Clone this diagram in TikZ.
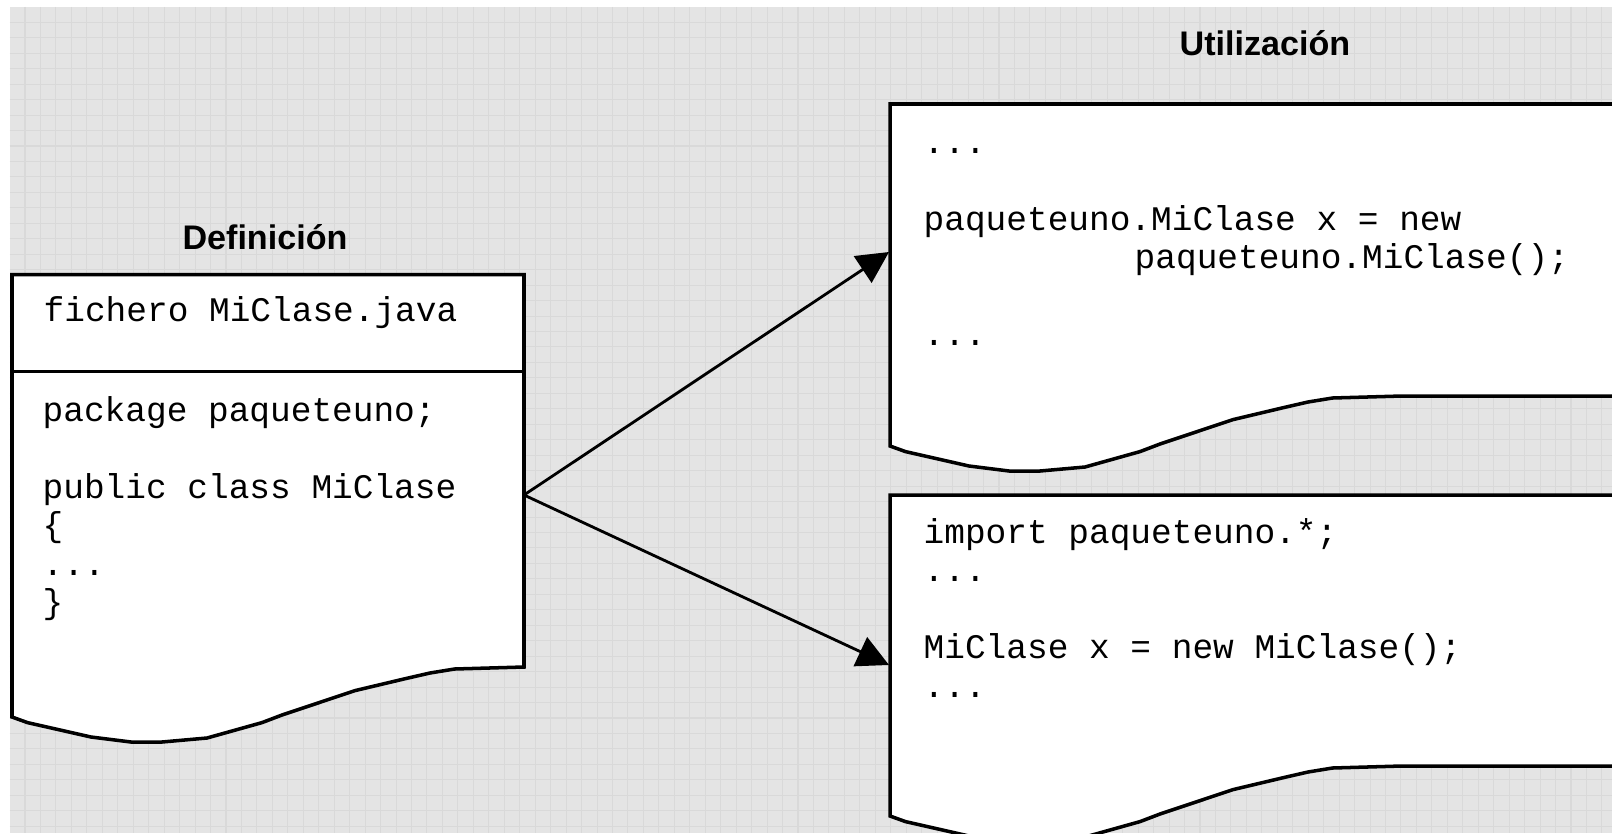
\documentclass[tikz,border=0pt]{standalone}
\usepackage{fontspec}
\setmonofont{Liberation Mono}
\setsansfont{Liberation Sans}
\usetikzlibrary{arrows.meta}

\definecolor{fondo}{HTML}{E4E4E4}
\definecolor{rejilla}{HTML}{D9D9D9}

\tikzset{
  hoja/.style={draw=black, fill=white, line width=1pt},
  codigo/.style={anchor=base west, inner sep=0pt, font=\fontsize{9.8}{11}\selectfont\ttfamily},
  titulo/.style={anchor=base, inner sep=0pt, font=\fontsize{9.7}{11}\selectfont\sffamily\bfseries},
  flecha/.style={line width=0.8pt, -{Triangle[length=9pt,width=9pt]}},
  borde/.style={insert path={-- ++(-69.5,2) -- ++(-24.5,4) -- ++(-24,5.5) -- ++(-51,12.1)
     -- ++(-73,24.4) -- ++(-20,7.6) -- ++(-55,15.4) -- ++(-45,4) -- ++(-31,0)
     -- ++(-40,-5) -- ++(-63.5,-14.4) -- ++(-15.5,-5.6)}}
}

\begin{document}
\begin{tikzpicture}[x=0.01cm,y=-0.01cm]
\useasboundingbox (0,0) rectangle (1612,833);
\clip (0,0) rectangle (1612,833);

% fondo cuadriculado
\fill[white] (0,0) rectangle (1612,833);
\fill[fondo] (9.5,6.8) rectangle (1612,833);
\foreach \gx in {1,...,103}
  \draw[rejilla,line width=0.3pt] ({9.54+15.46*\gx},6.8) -- ({9.54+15.46*\gx},833);
\foreach \gy in {1,...,53}
  \draw[rejilla,line width=0.3pt] (9.5,{6.84+15.46*\gy}) -- (1612,{6.84+15.46*\gy});

% titulos
\node[titulo] (tdef) at (265,249.5) {Definición};
\node[titulo] (tuso) at (1265,55.5) {Utilización};

% definicion
\draw[hoja] (12,274.7) -- (524,274.7) -- (524,667) [borde] -- cycle;
\draw[line width=1pt] (12,371.7) -- (524,371.7);

\node[codigo] (fich) at (43,321) {fichero MiClase.java};
\node[codigo] (pack) at (42,421) {package paqueteuno;};
\node[codigo] (clas) at (42,498) {public class MiClase};
\node[codigo] (abre) at (42,536.5) {\{};
\node[codigo] (punt) at (42,575) {...};
\node[codigo] (cier) at (42,613.5) {\}};

% utilizacion con nombre completo
\draw[hoja] (890,104) -- (1700,104) -- (1700,396) -- (1402,396) [borde] -- cycle;

\node[codigo] (usoa1) at (923,153) {...};
\node[codigo] (usoa2) at (923,230) {paqueteuno.MiClase x = new};
\node[codigo] (usoa3) at (1134,268.5) {paqueteuno.MiClase();};
\node[codigo] (usoa4) at (923,345.5) {...};

% utilizacion con import
\draw[hoja] (890,495) -- (1700,495) -- (1700,766) -- (1402,766) [borde] -- cycle;

\node[codigo] (usob1) at (923,543) {import paqueteuno.*;};
\node[codigo] (usob2) at (923,581.5) {...};
\node[codigo] (usob3) at (923,658.5) {MiClase x = new MiClase();};
\node[codigo] (usob4) at (923,697) {...};

% flechas
\coordinate (sale) at (524,495);
\coordinate (llegaA) at (889,252);
\coordinate (llegaB) at (889,665);
\draw[flecha] (sale) -- (llegaA);
\draw[flecha] (sale) -- (llegaB);
\end{tikzpicture}
\end{document}
